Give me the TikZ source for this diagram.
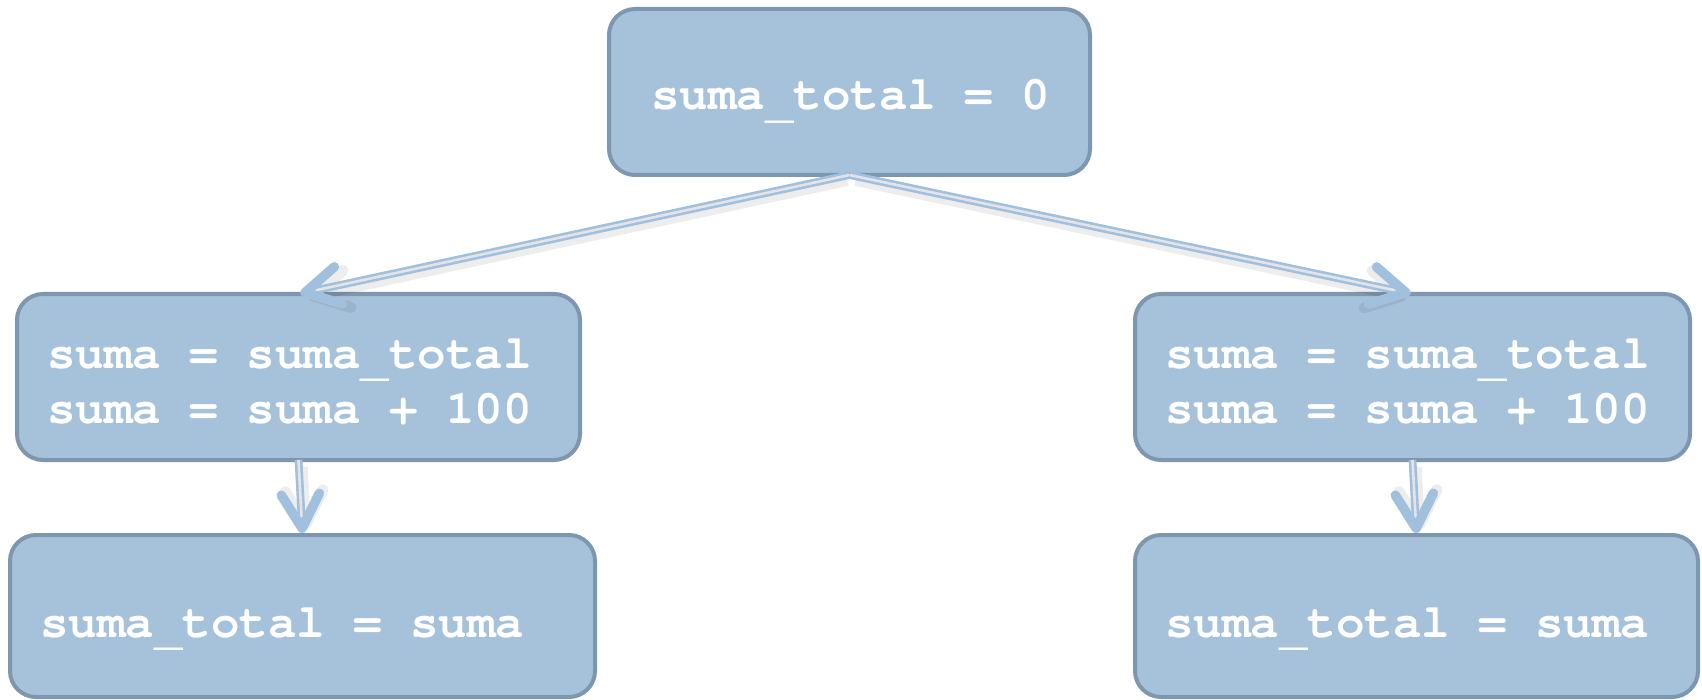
\documentclass[tikz,border=0pt]{standalone}
\usepackage{fontspec}
\setmonofont{TeX Gyre Cursor}
\usetikzlibrary{arrows.meta}
\definecolor{boxfill}{RGB}{165,194,218}
\definecolor{boxline}{RGB}{126,150,174}
\definecolor{arrowcol}{RGB}{160,192,222}
\definecolor{arrowin}{RGB}{228,228,232}
\newcommand{\us}{\raisebox{-0.16em}{\_}}
\begin{document}
\begin{tikzpicture}[x=0.5pt,y=-0.5pt,
  box/.style={draw=boxline, fill=boxfill, line width=2pt, rounded corners=13pt, outer sep=0pt, inner sep=0pt},
  code/.style={text=white, inner sep=0pt, outer sep=0pt, font=\ttfamily\bfseries\fontsize{23.75pt}{28pt}\selectfont},
  shaft/.style={draw=arrowcol, line width=1.3pt, double=arrowin, double distance=1.3pt, shorten >=1pt,
     -{Straight Barb[length=17pt,width=19pt,line width=4.8pt,round]}},
  shade/.style={draw=black, opacity=0.07, line width=5pt, shorten >=4pt, shorten <=2pt,
     -{Straight Barb[length=17pt,width=19pt,line width=5.5pt,round]}}
]
\useasboundingbox (0,0) rectangle (1702,700);
\fill[white] (0,0) rectangle (1702,700);

\node[box, minimum width=240.5pt, minimum height=83pt] (top) at (849.5,92) {};
\node[box, minimum width=281.5pt, minimum height=83pt] (m1) at (298.5,377) {};
\node[box, minimum width=292.5pt, minimum height=81pt] (b1) at (302.5,616) {};
\node[box, minimum width=277.5pt, minimum height=83pt] (m2) at (1412.5,377) {};
\node[box, minimum width=281.5pt, minimum height=81pt] (b2) at (1416.5,616) {};

\node[code, anchor=base west] (t0) at (651,110) {suma\us total = 0};
\node[code, anchor=base west] (t1) at (47,368) {suma = suma\us total};
\node[code, anchor=base west] (t2) at (47,423) {suma = suma + 100};
\node[code, anchor=base west] (t3) at (40,637) {suma\us total = suma};
\node[code, anchor=base west] (t4) at (1165,368) {suma = suma\us total};
\node[code, anchor=base west] (t5) at (1165,423) {suma = suma + 100};
\node[code, anchor=base west] (t6) at (1165,637) {suma\us total = suma};

\draw[shade] ([shift={(2,5)}]top.south) -- ([shift={(2,5)}]m1.north);
\draw[shade] ([shift={(2,5)}]top.south) -- ([shift={(2,5)}]m2.north);
\draw[shade] ([shift={(4,3)}]m1.south) -- ([shift={(4,3)}]b1.north);
\draw[shade] ([shift={(4,3)}]m2.south) -- ([shift={(4,3)}]b2.north);

\draw[shaft] (top.south) -- (m1.north);
\draw[shaft] (top.south) -- (m2.north);
\draw[shaft] (m1.south) -- (b1.north);
\draw[shaft] (m2.south) -- (b2.north);
\end{tikzpicture}
\end{document}
